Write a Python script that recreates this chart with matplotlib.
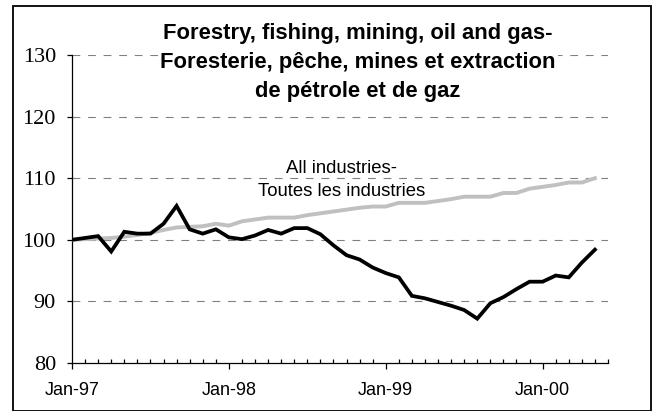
import matplotlib
matplotlib.use("Agg")
import matplotlib.pyplot as plt
from matplotlib.patches import Rectangle
from matplotlib.ticker import FixedLocator, MultipleLocator

# ---- data ----
months = list(range(41))  # Jan-97 .. May-00
forestry = [100.0, 100.3, 100.6, 98.1, 101.3, 101.0, 101.0, 102.6, 105.5, 101.7,
            101.0, 101.7, 100.4, 100.1, 100.7, 101.6, 101.0, 101.9, 101.9, 100.9,
            99.1, 97.5, 96.8, 95.5, 94.6, 93.9, 90.9, 90.5, 89.9, 89.3,
            88.6, 87.2, 89.7, 90.7, 92.0, 93.2, 93.2, 94.2, 93.9, 96.3, 98.4]
all_industries = [100.0, 100.1, 100.2, 100.3, 100.5, 100.8, 101.1, 101.6, 102.0, 102.1,
                  102.2, 102.6, 102.3, 103.0, 103.3, 103.6, 103.6, 103.6, 104.0, 104.3,
                  104.6, 104.9, 105.2, 105.4, 105.4, 106.0, 106.0, 106.0, 106.3, 106.6,
                  107.0, 107.0, 107.0, 107.6, 107.6, 108.3, 108.6, 108.9, 109.3, 109.3, 110.0]
xtick_pos = [0, 12, 24, 36]
xtick_labels = ["Jan-97", "Jan-98", "Jan-99", "Jan-00"]
yticks = [80, 90, 100, 110, 120, 130]
title_lines = ["Forestry, fishing, mining, oil and gas-",
               "Foresterie, pêche, mines et extraction",
               "de pétrole et de gaz"]
annot_lines = ["All industries-", "Toutes les industries"]

W, H = 652, 411
fig = plt.figure(figsize=(W / 100, H / 100), dpi=100)
fig.patch.set_facecolor("white")

def fx(px):
    return px / W

def fy(py):
    return 1 - py / H

ax = fig.add_axes([fx(72), fy(363), fx(608) - fx(72), fy(55) - fy(363)])
ax.set_facecolor("white")

ax.plot(months, all_industries, color="#c0c0c0", lw=2.8, solid_joinstyle="miter", zorder=3)
ax.plot(months, forestry, color="black", lw=2.7, solid_joinstyle="miter", zorder=4)

ax.set_xlim(0, 41)
ax.set_ylim(80, 130)

for sp in ["top", "right"]:
    ax.spines[sp].set_visible(False)
for sp in ["left", "bottom"]:
    ax.spines[sp].set_linewidth(0.9)
    ax.spines[sp].set_color("black")

ax.yaxis.set_major_locator(FixedLocator(yticks))
ax.set_yticklabels([str(v) for v in yticks], family="Liberation Serif", fontsize=16)
ax.tick_params(axis="y", direction="out", length=3.6, width=0.9, pad=8)

ax.xaxis.set_major_locator(FixedLocator(xtick_pos))
ax.set_xticklabels(xtick_labels, family="Liberation Sans", fontsize=13)
ax.xaxis.set_minor_locator(MultipleLocator(1))
ax.tick_params(axis="x", which="major", direction="out", length=4, width=0.9, pad=10)
ax.tick_params(axis="x", which="minor", direction="in", length=3, width=0.9)

for v in yticks[1:]:
    ax.axhline(v, color="#808080", lw=0.8, ls=(0, (7, 7)), zorder=1)

# white area behind the title (hides the 130 gridline there)
fig.patches.append(Rectangle((fx(158), fy(104)), fx(558) - fx(158), fy(18) - fy(104),
                             transform=fig.transFigure, facecolor="white",
                             edgecolor="none", zorder=2))

# title
for line, base in zip(title_lines, [39.5, 68.3, 96.7]):
    fig.text(fx(358), fy(base), line, ha="center", va="baseline",
             family="Liberation Sans", fontweight="bold", fontsize=15.8, zorder=3)

# annotation
for line, base in zip(annot_lines, [172.7, 195.5]):
    fig.text(fx(342), fy(base), line, ha="center", va="baseline",
             family="Liberation Sans", fontsize=13.3, zorder=3)

# outer border
fig.patches.append(Rectangle((fx(13), fy(410.5)), fx(651) - fx(13), fy(6) - fy(410.5),
                             transform=fig.transFigure, facecolor="none",
                             edgecolor="black", lw=1.3, zorder=5))

fig.savefig("out.png", dpi=100, facecolor="white")
